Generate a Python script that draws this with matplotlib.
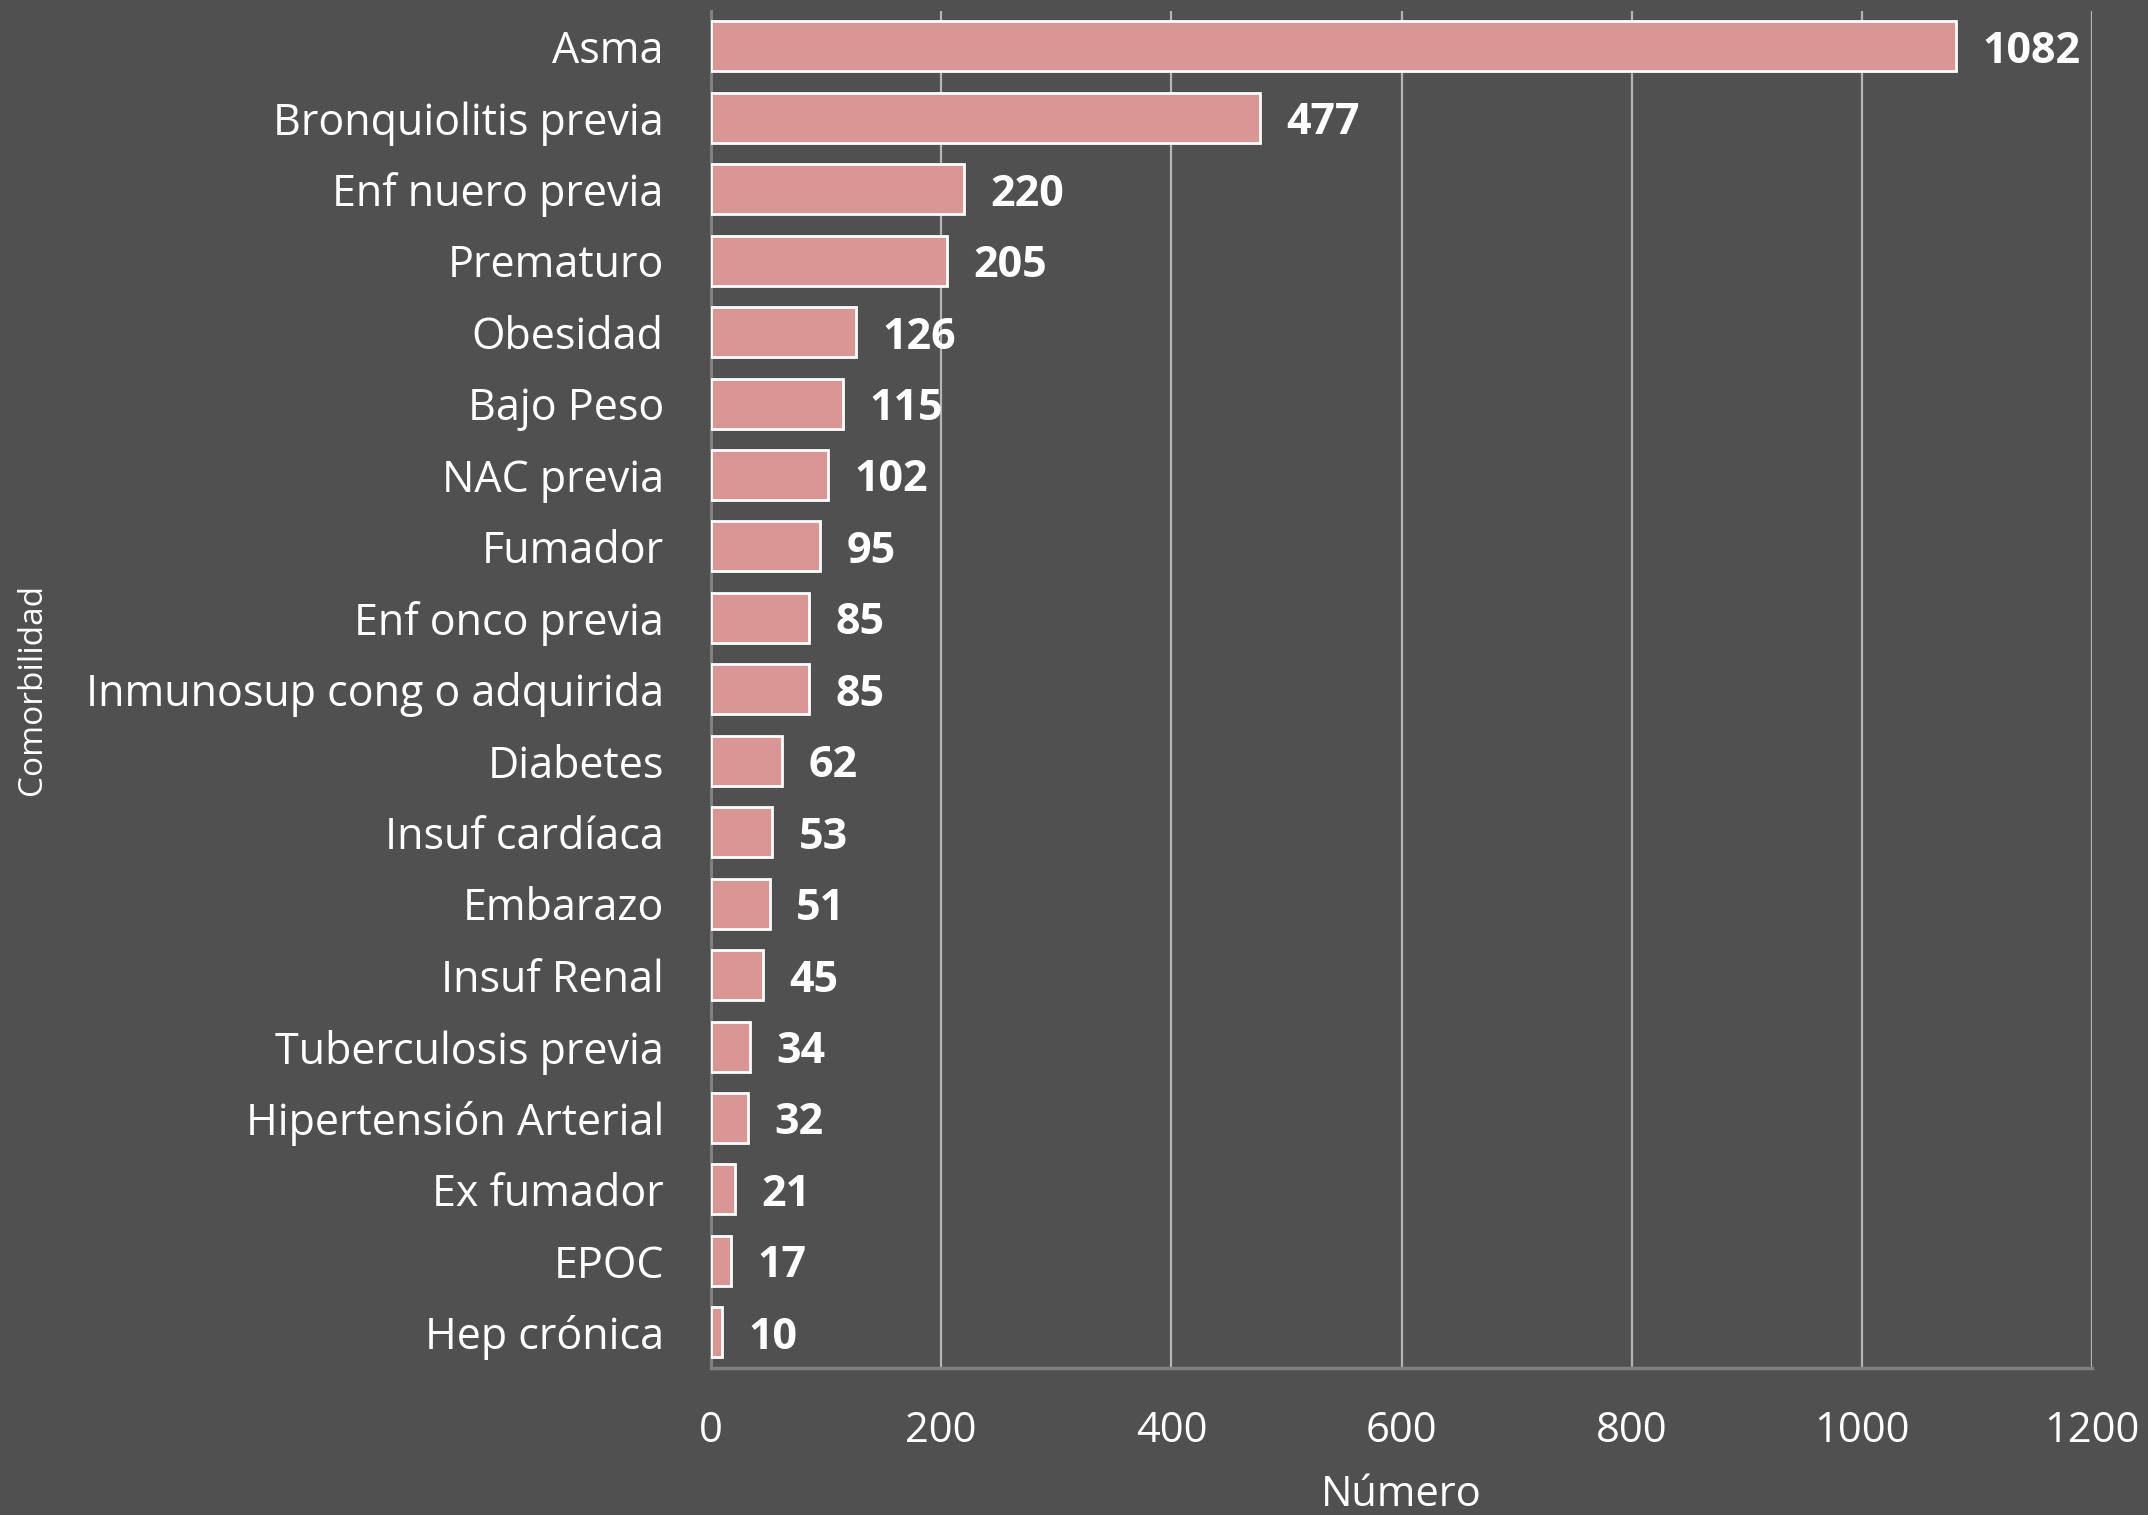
import matplotlib.pyplot as plt

categorias = ["Asma", "Bronquiolitis previa", "Enf nuero previa", "Prematuro",
              "Obesidad", "Bajo Peso", "NAC previa", "Fumador", "Enf onco previa",
              "Inmunosup cong o adquirida", "Diabetes", "Insuf cardíaca", "Embarazo",
              "Insuf Renal", "Tuberculosis previa", "Hipertensión Arterial",
              "Ex fumador", "EPOC", "Hep crónica"]
valores = [1082, 477, 220, 205, 126, 115, 102, 95, 85, 85, 62, 53, 51, 45, 34, 32, 21, 17, 10]
x_ticks = [0, 200, 400, 600, 800, 1000, 1200]

bg = "#505050"
bar_color = "#D99694"
plt.rcParams['font.family'] = ['Open Sans', 'DejaVu Sans']

fig = plt.figure(figsize=(21.48, 15.15), dpi=100, facecolor=bg)
ax = fig.add_axes([0.331, 0.097, 0.643, 0.896])
ax.set_facecolor(bg)

pos = list(range(len(categorias)))
ax.barh(pos, valores, height=0.7, color=bar_color, edgecolor="white", linewidth=2, zorder=3)

for p, v in zip(pos, valores):
    ax.annotate(str(v), (v, p), xytext=(19, 0), textcoords="offset points",
                va="center_baseline", ha="left", color="white", fontsize=31, fontweight="bold")

ax.set_ylim(len(categorias) - 0.5, -0.5)
ax.set_xlim(0, 1200)
ax.set_xticks(x_ticks)
ax.set_yticks(pos)
ax.set_yticklabels(categorias)

ax.grid(axis="x", color="#B4B4B4", linewidth=1.6, zorder=0)
ax.tick_params(axis="both", length=0, colors="white", labelsize=30)
ax.tick_params(axis="y", pad=34, labelsize=31)
ax.tick_params(axis="x", pad=30)

for s in ["top", "right"]:
    ax.spines[s].set_visible(False)
ax.spines["left"].set_color("#808080")
ax.spines["left"].set_linewidth(2.2)
ax.spines["bottom"].set_color("#808080")
ax.spines["bottom"].set_linewidth(2.5)

ax.set_xlabel("Número", color="white", fontsize=30, labelpad=16)
ax.set_ylabel("Comorbilidad", color="white", fontsize=24)
ax.yaxis.set_label_coords(-0.479, 0.5)

fig.savefig("out.png", facecolor=bg)
